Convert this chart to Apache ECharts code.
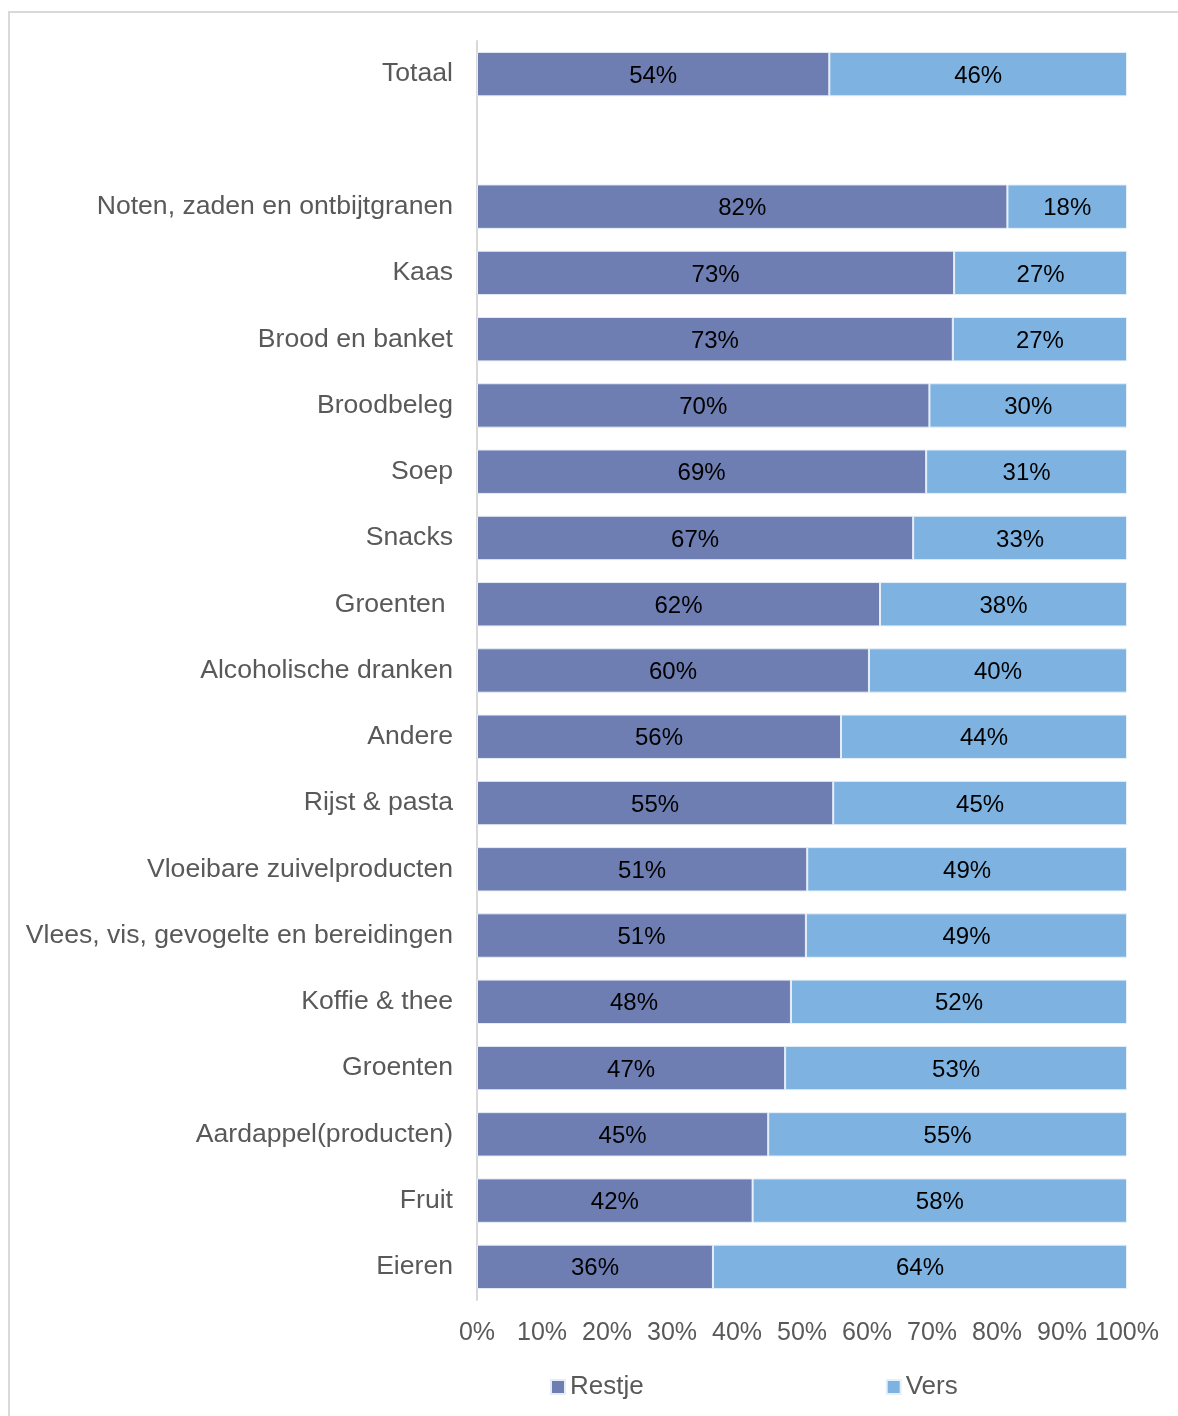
<!DOCTYPE html>
<html><head><meta charset="utf-8">
<script src="https://cdn.jsdelivr.net/npm/echarts@6/dist/echarts.min.js"></script>
<style>
html,body{margin:0;padding:0;background:#fff;}
#frame{position:absolute;left:8px;top:11px;width:1200px;height:1430px;border:2px solid #d9d9d9;box-sizing:border-box;}
#c{position:absolute;left:0;top:0;width:1178px;height:1416px;}
</style></head>
<body>
<div id="frame"></div>
<div id="c"></div>
<script>
var categories = ["Totaal", "", "Noten, zaden en ontbijtgranen", "Kaas", "Brood en banket", "Broodbeleg", "Soep", "Snacks", "Groenten ", "Alcoholische dranken", "Andere", "Rijst & pasta", "Vloeibare zuivelproducten", "Vlees, vis, gevogelte en bereidingen", "Koffie & thee", "Groenten", "Aardappel(producten)", "Fruit", "Eieren"];
var restje = [54.2, null, 81.6, 73.4, 73.2, 69.6, 69.1, 67.1, 62.0, 60.3, 56.0, 54.8, 50.8, 50.6, 48.3, 47.4, 44.8, 42.4, 36.3];
var vers = [45.8, null, 18.4, 26.6, 26.8, 30.4, 30.9, 32.9, 38.0, 39.7, 44.0, 45.2, 49.2, 49.4, 51.7, 52.6, 55.2, 57.6, 63.7];
var xTicks = [0, 10, 20, 30, 40, 50, 60, 70, 80, 90, 100];

var font = "Liberation Sans, Arial, sans-serif";
var chart = echarts.init(document.getElementById('c'));
function lbl(p){ return p.value == null ? '' : Math.round(p.value) + '%'; }
chart.setOption({
  animation: false,
  textStyle: {fontFamily: font},
  grid: {left: 477, right: 51, top: 41, bottom: 116, containLabel: false},
  legend: {
    bottom: 16, left: 550, padding: 0, itemWidth: 14, itemHeight: 14, itemGap: 242,
    icon: 'rect',
    textStyle: {fontSize: 26, color: '#595959', fontFamily: font, padding: [3,0,0,0]},
    data: ['Restje', 'Vers']
  },
  xAxis: {
    type: 'value', min: 0, max: 100, interval: 10,
    axisLabel: {formatter: function(v){ return xTicks.indexOf(v) >= 0 ? v + '%' : ''; }, fontSize: 25, color: '#595959', margin: 21, fontFamily: font},
    axisLine: {show: false}, axisTick: {show: false}, splitLine: {show: false}
  },
  yAxis: {
    type: 'category', inverse: true, data: categories,
    axisLabel: {fontSize: 26.6, color: '#595959', margin: 24, fontFamily: font, verticalAlign: 'middle', lineHeight: 26, padding: [5,0,0,0]},
    axisLine: {show: true, lineStyle: {color: '#d9d9d9', width: 2}},
    axisTick: {show: false}
  },
  series: [
    {name: 'Restje', type: 'bar', stack: 's', data: restje, barCategoryGap: '33%',
     itemStyle: {color: '#6E7EB2', borderColor: '#e6ecf5', borderWidth: 1},
     label: {show: true, position: 'inside', offset: [0, 2], color: '#000', fontSize: 24, fontFamily: font, formatter: lbl}},
    {name: 'Vers', type: 'bar', stack: 's', data: vers, barCategoryGap: '33%',
     itemStyle: {color: '#7EB3E1', borderColor: '#e6f0fa', borderWidth: 1},
     label: {show: true, position: 'inside', offset: [0, 2], color: '#000', fontSize: 24, fontFamily: font, formatter: lbl}}
  ]
});
</script>
</body></html>
